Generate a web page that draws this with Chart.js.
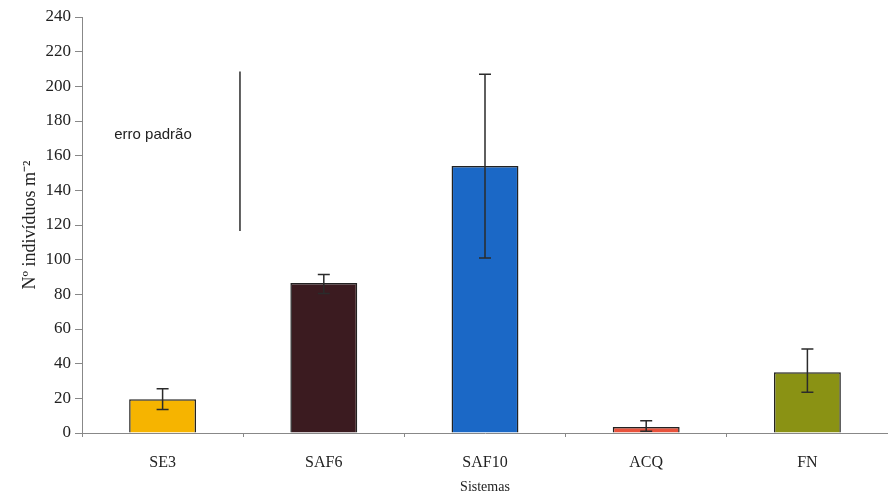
<!DOCTYPE html>
<html>
<head>
<meta charset="utf-8">
<script src="https://cdn.jsdelivr.net/npm/chart.js@4/dist/chart.umd.min.js"></script>
<style>
  html, body { margin: 0; padding: 0; background: #fff; }
  #wrap { width: 888px; height: 500px; }
</style>
</head>
<body>
<div id="wrap"><canvas id="chart" width="888" height="500"></canvas></div>
<script>
// Sistemas e médias (leitura do gráfico)
const categories = ['SE3', 'SAF6', 'SAF10', 'ACQ', 'FN'];
const values = [19.5, 86.5, 154, 3.5, 35];
const errLow = [13.5, 80.5, 101, 1, 23.5];
const errHigh = [25.5, 91.5, 207, 7, 48.5];
const yTicks = [0, 20, 40, 60, 80, 100, 120, 140, 160, 180, 200, 220, 240];

const barColors = ['#f6b400', '#3b1b20', '#1b68c6', '#e8523c', '#8a9214'];
const serif = '"Liberation Serif", "Times New Roman", serif';

// Barras de erro + legenda "erro padrão"
const errorBars = {
  id: 'errorBars',
  afterDatasetsDraw(chart) {
    const { ctx, scales: { x, y } } = chart;
    ctx.save();
    ctx.strokeStyle = '#2b2b2b';
    ctx.lineWidth = 1.5;
    categories.forEach((c, i) => {
      const px = x.getPixelForValue(i);
      const top = y.getPixelForValue(errHigh[i]);
      const bot = y.getPixelForValue(errLow[i]);
      const cap = 6;
      ctx.beginPath();
      ctx.moveTo(px, top); ctx.lineTo(px, bot);
      ctx.moveTo(px - cap, top); ctx.lineTo(px + cap, top);
      ctx.moveTo(px - cap, bot); ctx.lineTo(px + cap, bot);
      ctx.stroke();
    });
    // linha de referência do erro padrão
    const lx = x.getPixelForValue(0.48);
    ctx.beginPath();
    ctx.moveTo(lx, y.getPixelForValue(208.5));
    ctx.lineTo(lx, y.getPixelForValue(116.5));
    ctx.stroke();
    ctx.fillStyle = '#222';
    ctx.font = '15px "Liberation Sans", Arial, sans-serif';
    ctx.textBaseline = 'middle';
    ctx.fillText('erro padrão', x.getPixelForValue(-0.3), y.getPixelForValue(172));
    ctx.restore();
  }
};

new Chart(document.getElementById('chart'), {
  type: 'bar',
  data: {
    labels: categories,
    datasets: [{
      data: values,
      backgroundColor: barColors,
      borderColor: '#222',
      borderWidth: 1.5,
      categoryPercentage: 1,
      barPercentage: 0.415
    }]
  },
  options: {
    responsive: false,
    animation: false,
    layout: { padding: { top: 17, right: 0, left: 0, bottom: 0 } },
    plugins: {
      legend: { display: false },
      tooltip: { enabled: false }
    },
    scales: {
      x: {
        grid: { display: true, drawOnChartArea: false, offset: true, tickLength: 4, color: '#888' },
        border: { color: '#888', width: 1 },
        ticks: { color: '#222', font: { family: serif, size: 16 }, padding: 16 },
        title: { display: true, text: 'Sistemas', color: '#222', font: { family: serif, size: 14 }, padding: { top: 14 } },
        afterFit: s => { s.height = 67; }
      },
      y: {
        min: 0,
        max: 240,
        afterBuildTicks: s => { s.ticks = yTicks.map(v => ({ value: v })); },
        grid: { display: true, drawOnChartArea: false, tickLength: 7, color: '#888' },
        border: { color: '#888', width: 1 },
        ticks: { color: '#222', font: { family: serif, size: 17 }, padding: 4 },
        title: { display: true, text: 'Nº indivíduos m⁻²', color: '#222', font: { family: serif, size: 18 }, padding: { top: 19, bottom: 2 } },
        afterFit: s => { s.width = 82; }
      }
    }
  },
  plugins: [errorBars]
});
</script>
</body>
</html>
